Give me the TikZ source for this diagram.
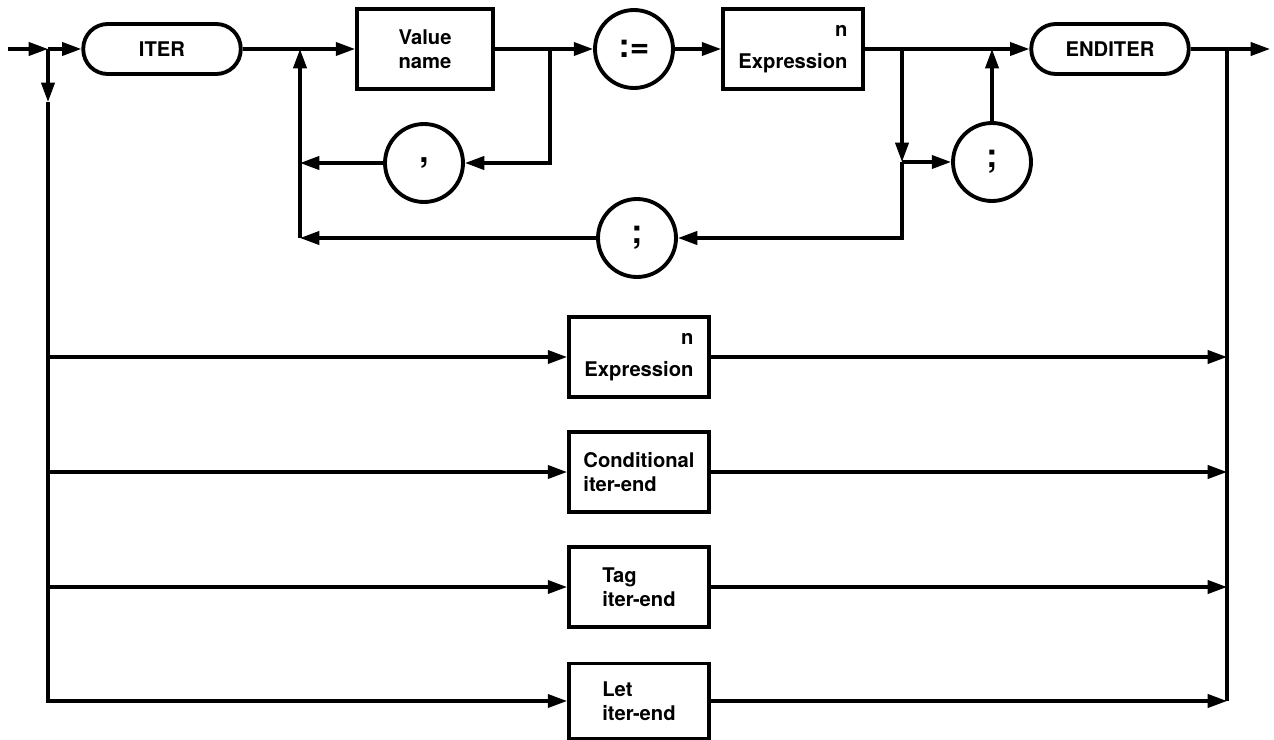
\documentclass[tikz,border=0pt]{standalone}
\usepackage{fontspec}
\setmainfont{TeX Gyre Heros}
\usetikzlibrary{arrows.meta, positioning, calc}

\tikzset{
  keyword/.style={draw, line width=2.2pt, rounded corners=0.49cm,
    minimum width=3.15cm, minimum height=1cm, inner sep=0pt,
    font=\fontsize{11.5}{13}\selectfont\bfseries},
  nonterm/.style={draw, line width=2.2pt, minimum width=2.8cm,
    minimum height=1.6cm, inner sep=0pt, align=left,
    font=\fontsize{11.5}{13.5}\selectfont\bfseries},
  repterm/.style={nonterm, align=right},
  symbol/.style={draw, circle, line width=2.2pt, minimum size=1.56cm,
    inner sep=0pt, font=\fontsize{19}{19}\selectfont\bfseries},
  flow/.style={line width=1.9pt},
  arr/.style={flow, -{Triangle[length=11pt, width=7.5pt]}},
}

\begin{document}
\begin{tikzpicture}[x=0.02cm, y=-0.02cm]
    \useasboundingbox (0,0) rectangle (1274,740);

    % junction points on the main line
    \coordinate (in) at (8,49);
    \coordinate (j0) at (48,49);
    \coordinate (j1) at (300,49);
    \coordinate (j2) at (550,49);
    \coordinate (j3) at (902,49);
    \coordinate (j4) at (992,49);
    \coordinate (j5) at (1227,49);
    \coordinate (out) at (1270,49);
    \coordinate (d0) at (48,102);

    % main row
    \node[keyword] (iter) at (162,49) {ITER};
    \node[nonterm, minimum width=2.72cm] (valname) at (425,49) {Value\\name};
    \node[symbol] (assign) at (634,49) {:=};
    \node[repterm] (expr) at (793,49) {n\\[5pt]Expression};
    \node[keyword] (enditer) at (1110,49) {ENDITER};

    % separators
    \node[symbol] (comma) at (424,163) {,};
    \node[symbol] (semia) at (637,238) {;};
    \node[symbol] (semib) at (992,162) {;};

    % alternative iter-ends
    \node[repterm] (exprb) at (639,357) {n\\[5pt]Expression};
    \node[nonterm] (cond) at (639,472) {Conditional\\iter-end};
    \node[nonterm] (tag) at (639,587) {Tag\\iter-end};
    \node[nonterm, minimum height=1.5cm] (letend) at (639,701) {Let\\iter-end};

    % main line
    \draw[arr] (in) -- (j0);
    \draw[arr] (j0) -- (iter);
    \draw[flow] (iter) -- (j1);
    \draw[arr] (j1) -- (valname);
    \draw[flow] (valname) -- (j2);
    \draw[arr] (j2) -- (assign);
    \draw[arr] (assign) -- (expr);
    \draw[flow] (expr) -- (j3);
    \draw[arr] (j3) -- (enditer);
    \draw[arr] (enditer) -- (out);

    % loops back
    \draw[arr] (j2) |- (comma);
    \draw[arr] (comma) -- (comma -| j1);
    \draw[arr] (j1 |- semia) -- (j1);
    \draw[arr] (j3) -- (j3 |- semib);
    \draw[arr] (j3 |- semib) -- (semib);
    \draw[arr] (j3 |- semib) |- (semia);
    \draw[arr] (semia) -- (semia -| j1);
    \draw[arr] (semib) -- (j4);

    % bypass rows
    \draw[arr] (j0) -- (d0);
    \draw[arr] (d0) |- (letend);
    \draw[flow] (j5) -- (j5 |- letend);
    \foreach \alt in {exprb, cond, tag} {
        \draw[arr] (j0 |- \alt) -- (\alt);
    }
    \foreach \alt in {exprb, cond, tag, letend} {
        \draw[arr] (\alt) -- (j5 |- \alt);
    }
\end{tikzpicture}
\end{document}
